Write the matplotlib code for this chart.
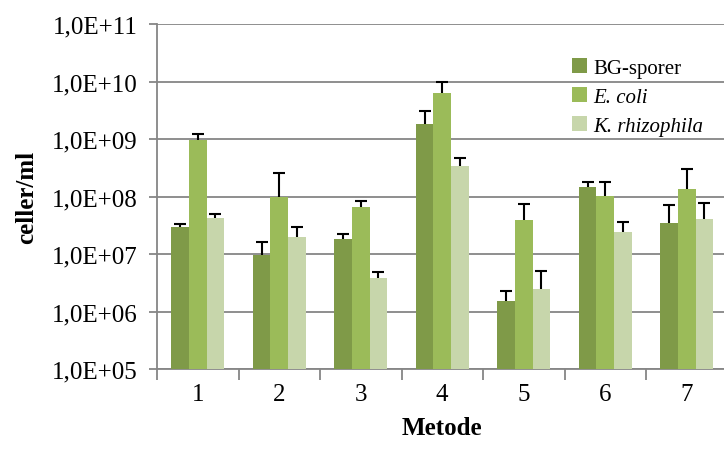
import matplotlib
matplotlib.use("Agg")
import matplotlib.pyplot as plt
import numpy as np
from matplotlib.ticker import FixedLocator, NullFormatter, FixedFormatter

plt.rcParams['font.family'] = ['Liberation Serif', 'DejaVu Serif']

categories = ['1', '2', '3', '4', '5', '6', '7']
series_names = ['BG-sporer', 'E. coli', 'K. rhizophila']
bg_sporer = [3.0e7, 9.5e6, 1.8e7, 1.8e9, 1.55e6, 1.45e8, 3.4e7]
bg_err_top = [3.3e7, 1.6e7, 2.2e7, 3.1e9, 2.3e6, 1.8e8, 7.2e7]
e_coli = [9.5e8, 1.0e8, 6.5e7, 6.3e9, 3.9e7, 1.02e8, 1.35e8]
e_err_top = [1.2e9, 2.6e8, 8.3e7, 1.0e10, 7.3e7, 1.8e8, 3.0e8]
k_rhiz = [4.3e7, 2.0e7, 3.8e6, 3.4e8, 2.5e6, 2.4e7, 4.1e7]
k_err_top = [5.0e7, 2.9e7, 4.8e6, 4.7e8, 5.0e6, 3.6e7, 7.8e7]
ytick_labels = ['1,0E+05', '1,0E+06', '1,0E+07', '1,0E+08', '1,0E+09', '1,0E+10', '1,0E+11']

colors = ['#7f9a48', '#9bbb59', '#c7d6ab']
values = [bg_sporer, e_coli, k_rhiz]
tops = [bg_err_top, e_err_top, k_err_top]

fig = plt.figure(figsize=(7.24, 4.52), dpi=100)
ax = fig.add_axes([157/724, 1-370/452, 570.5/724, 345/452])

x = np.arange(1, len(categories) + 1)
w = 0.217
for i, (vals, top, c, name) in enumerate(zip(values, tops, colors, series_names)):
    xpos = x + (i - 1) * w
    vals = np.array(vals)
    top = np.array(top)
    ax.bar(xpos, vals - 1e5, width=w, bottom=1e5, color=c, label=name, zorder=3)
    ax.vlines(xpos, vals, top, colors='black', linewidth=1.5, zorder=4)
    ax.plot(xpos, top, linestyle='none', marker='_', markersize=8.6,
            markeredgewidth=1.5, color='black', zorder=4)

ax.set_yscale('log')
ax.set_ylim(1e5, 1e11)
ax.set_xlim(0.5, 7.5)
yt = [1e5, 1e6, 1e7, 1e8, 1e9, 1e10, 1e11]
ax.yaxis.set_major_locator(FixedLocator(yt))
ax.yaxis.set_major_formatter(FixedFormatter(ytick_labels))
ax.yaxis.set_minor_locator(FixedLocator([]))
ax.grid(axis='y', color='#868686', linewidth=1.3, zorder=0)
ax.set_axisbelow(True)

ax.xaxis.set_major_locator(FixedLocator(np.arange(0.5, 8.0, 1.0)))
ax.xaxis.set_major_formatter(NullFormatter())
ax.xaxis.set_minor_locator(FixedLocator(x))
ax.xaxis.set_minor_formatter(FixedFormatter(categories))
ax.tick_params(axis='x', which='major', length=8, width=1.3, color='#868686')
ax.tick_params(axis='x', which='minor', length=0, labelsize=18, pad=10)
ax.tick_params(axis='y', which='major', length=6, width=1.3, color='#868686', labelsize=18, pad=8)

for s in ['top', 'right']:
    ax.spines[s].set_visible(False)
for s in ['left', 'bottom']:
    ax.spines[s].set_color('#868686')
    ax.spines[s].set_linewidth(1.3)

ax.set_xlabel('Metode', fontsize=18, fontweight='bold', labelpad=8)
ax.set_ylabel('celler/ml', fontsize=18, fontweight='bold', labelpad=10)

leg = ax.legend(loc='upper left', bbox_to_anchor=(0.713, 0.925), frameon=False,
                fontsize=15, handlelength=0.7, handleheight=0.7, handletextpad=0.3,
                labelspacing=0.45, borderaxespad=0)
for t in leg.get_texts():
    if t.get_text() != 'BG-sporer':
        t.set_fontstyle('italic')

fig.savefig('out.png', dpi=100)
